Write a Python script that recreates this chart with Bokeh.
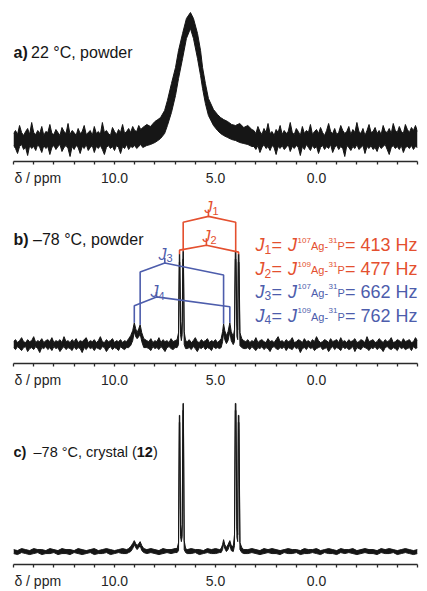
from bokeh.plotting import figure
from bokeh.models import Range1d, FixedTicker, CustomJSTickFormatter, Label
from bokeh.layouts import column
from bokeh.embed import file_html
from bokeh.resources import INLINE

# ---------------- data (ppm positions and intensities) -------------
a_ppm = [15.0, 14.9, 14.8, 14.7, 14.6, 14.5, 14.4, 14.3, 14.2, 14.1,
         14.0, 13.9, 13.8, 13.7, 13.6, 13.5, 13.4, 13.3, 13.2, 13.1,
         13.0, 12.9, 12.8, 12.7, 12.6, 12.5, 12.4, 12.3, 12.2, 12.1,
         12.0, 11.9, 11.8, 11.7, 11.6, 11.5, 11.4, 11.3, 11.2, 11.1,
         11.0, 10.9, 10.8, 10.7, 10.6, 10.5, 10.4, 10.3, 10.2, 10.1,
         10.0, 9.9, 9.8, 9.7, 9.6, 9.5, 9.4, 9.3, 9.2, 9.1, 9.0, 8.9, 8.8, 8.7,
         8.6, 8.4, 8.22, 8.0, 7.85, 7.72, 7.52, 7.38, 7.18, 6.98, 6.83, 6.63, 6.44, 6.24, 6.09, 5.89,
         5.74, 5.64, 5.50, 5.35, 5.10, 4.90, 4.75, 4.60, 4.40, 4.20, 4.01, 3.80, 3.60, 3.40, 3.20,
         3.1, 3.0, 2.9, 2.8, 2.7, 2.6, 2.5, 2.4, 2.3, 2.2,
         2.1, 2.0, 1.9, 1.8, 1.7, 1.6, 1.5, 1.4, 1.3, 1.2,
         1.1, 1.0, 0.9, 0.8, 0.7, 0.6, 0.5, 0.4, 0.3, 0.2,
         0.1, 0.0, -0.1, -0.2, -0.3, -0.4, -0.5, -0.6, -0.7, -0.8,
         -0.9, -1.0, -1.1, -1.2, -1.3, -1.4, -1.5, -1.6, -1.7, -1.8,
         -1.9, -2.0, -2.1, -2.2, -2.3, -2.4, -2.5, -2.6, -2.7, -2.8,
         -2.9, -3.0, -3.1, -3.2, -3.3, -3.4, -3.5, -3.6, -3.7, -3.8,
         -3.9, -4.0, -4.1, -4.2, -4.3, -4.4, -4.5, -4.6, -4.7, -4.8,
         -4.9, -5.0]
a_upper = [28, 31, 27, 36, 29, 26, 30, 33, 27, 39,
           29, 27, 31, 28, 35, 26, 30, 29, 37, 28,
           27, 32, 29, 26, 34, 30, 28, 38, 27, 31,
           29, 26, 33, 28, 30, 36, 27, 29, 31, 26,
           35, 28, 30, 27, 39, 29, 31, 28, 26, 34,
           30, 27, 32, 29, 37, 28, 30, 33, 29, 35,
           31, 30, 36, 32,
           34, 37, 35, 40, 42, 44, 51, 61, 78, 94, 111, 128, 143, 149, 143, 128, 111, 94, 78, 63,
           52, 47, 44, 42, 40, 37, 36, 38, 34, 36, 32,
           31, 28, 35, 30, 27, 33, 29, 38, 28, 30,
           26, 32, 29, 36, 27, 31, 28, 30, 39, 29,
           27, 33, 30, 26, 35, 28, 31, 29, 37, 27,
           30, 32, 28, 34, 29, 26, 31, 38, 30, 28,
           33, 27, 29, 36, 31, 28, 30, 35, 27, 32,
           29, 39, 30, 28, 33, 26, 31, 37, 29, 30,
           34, 28, 31, 27, 36, 30, 29, 33, 28, 38,
           31, 29, 35, 30, 28, 37, 32, 29, 34, 31,
           36, 30]
a_lower = [16, 13, 8, 15, 17, 12, 14, 6, 16, 13,
           15, 11, 17, 14, 9, 16, 13, 15, 7, 14,
           16, 12, 15, 17, 10, 14, 16, 13, 5, 15,
           12, 16, 14, 8, 15, 13, 17, 11, 14, 16,
           9, 15, 13, 16, 12, 7, 14, 16, 13, 15,
           11, 16, 14, 8, 15, 13, 17, 12, 15, 14,
           16, 13, 15, 17,
           14, 16, 17, 19, 21, 23, 28, 36, 49, 66, 83, 103, 123, 133, 123, 103, 86, 73, 58, 46,
           36, 31, 28, 26, 24, 22, 21, 19, 18, 17, 15,
           15, 12, 16, 9, 14, 17, 13, 15, 11, 16,
           14, 7, 15, 13, 16, 12, 14, 17, 10, 15,
           13, 16, 14, 6, 15, 12, 17, 14, 11, 16,
           13, 15, 8, 14, 16, 12, 15, 13, 17, 9,
           14, 16, 12, 15, 13, 5, 16, 14, 11, 15,
           13, 17, 12, 14, 16, 8, 15, 13, 16, 12,
           14, 10, 16, 13, 15, 17, 12, 7, 14, 16,
           13, 15, 12, 16, 9, 14, 15, 13, 16, 12,
           15, 14]

b_ppm = [15.0, 14.9, 14.8, 14.7, 14.6, 14.5, 14.4, 14.3, 14.2, 14.1,
         14.0, 13.9, 13.8, 13.7, 13.6, 13.5, 13.4, 13.3, 13.2, 13.1,
         13.0, 12.9, 12.8, 12.7, 12.6, 12.5, 12.4, 12.3, 12.2, 12.1,
         12.0, 11.9, 11.8, 11.7, 11.6, 11.5, 11.4, 11.3, 11.2, 11.1,
         11.0, 10.9, 10.8, 10.7, 10.6, 10.5, 10.4, 10.3, 10.2, 10.1,
         10.0, 9.9, 9.8, 9.7, 9.6, 9.5, 9.4,
         9.3, 9.2, 9.1, 9.02, 8.95, 8.88, 8.80, 8.73, 8.65, 8.55,
         8.4, 8.3, 8.2, 8.1, 8.0, 7.9, 7.8, 7.7, 7.6, 7.5, 7.4, 7.3, 7.2, 7.1, 7.0,
         6.90, 6.83, 6.79, 6.77, 6.73, 6.69, 6.65, 6.61, 6.59, 6.55, 6.48,
         6.4, 6.3, 6.2, 6.1, 6.0, 5.9, 5.8, 5.7, 5.6, 5.5, 5.4, 5.3, 5.2, 5.1, 5.0, 4.9, 4.8,
         4.72, 4.65, 4.60, 4.54, 4.46, 4.38, 4.29, 4.22, 4.12, 4.06, 4.02, 3.99, 3.94, 3.90,
         3.87, 3.84, 3.79, 3.70, 3.60,
         3.5, 3.4, 3.3, 3.2, 3.1, 3.0, 2.9, 2.8, 2.7, 2.6,
         2.5, 2.4, 2.3, 2.2, 2.1, 2.0, 1.9, 1.8, 1.7, 1.6,
         1.5, 1.4, 1.3, 1.2, 1.1, 1.0, 0.9, 0.8, 0.7, 0.6,
         0.5, 0.4, 0.3, 0.2, 0.1, 0.0, -0.1, -0.2, -0.3, -0.4,
         -0.5, -0.6, -0.7, -0.8, -0.9, -1.0, -1.1, -1.2, -1.3, -1.4,
         -1.5, -1.6, -1.7, -1.8, -1.9, -2.0, -2.1, -2.2, -2.3, -2.4,
         -2.5, -2.6, -2.7, -2.8, -2.9, -3.0, -3.1, -3.2, -3.3, -3.4,
         -3.5, -3.6, -3.7, -3.8, -3.9, -4.0, -4.1, -4.2, -4.3, -4.4,
         -4.5, -4.6, -4.7, -4.8, -4.9, -5.0]
b_upper = [22, 24, 21, 23, 26, 22, 21, 24, 22, 23,
           27, 21, 23, 22, 25, 21, 23, 24, 22, 26,
           21, 23, 22, 24, 21, 27, 22, 23, 21, 24,
           22, 25, 21, 23, 22, 24, 26, 21, 23, 22,
           24, 21, 23, 27, 22, 21, 24, 22, 23, 25,
           21, 23, 22, 24, 21, 23, 22,
           25, 28, 33, 41, 35, 31, 35, 39, 31, 25,
           23, 22, 25, 21, 23, 22, 26, 21, 24, 22, 23, 21, 25, 22, 23,
           24, 31, 110, 110, 42, 31, 42, 113, 113, 32, 23,
           22, 24, 21, 23, 26, 22, 21, 24, 22, 23, 25, 21, 23, 22, 24, 21, 23,
           25, 32, 40, 33, 28, 32, 41, 32, 27, 34, 113, 113, 40, 34, 110, 110, 31, 25, 23,
           22, 24, 21, 23, 22, 26, 21, 23, 24, 22,
           21, 25, 22, 23, 21, 24, 27, 22, 23, 21,
           24, 22, 23, 26, 21, 22, 24, 23, 21, 25,
           22, 23, 21, 24, 22, 27, 23, 21, 22, 24,
           23, 21, 25, 22, 23, 24, 21, 26, 22, 23,
           21, 24, 22, 23, 25, 21, 22, 24, 23, 21,
           27, 22, 23, 24, 21, 22, 25, 23, 21, 24,
           22, 23, 26, 21, 22, 24, 23, 21, 25, 22,
           23, 24, 21, 22, 26, 23]
b_lower = [16, 14, 17, 15, 13, 16, 17, 12, 15, 16,
           14, 17, 15, 11, 16, 15, 17, 14, 16, 13,
           17, 15, 16, 12, 15, 17, 14, 16, 15, 13,
           17, 14, 16, 15, 11, 16, 14, 17, 15, 16,
           13, 16, 15, 14, 17, 16, 12, 15, 17, 14,
           16, 15, 13, 17, 15, 14, 16,
           16, 18, 23, 32, 27, 25, 27, 30, 22, 16,
           16, 15, 13, 17, 15, 16, 14, 17, 15, 12, 16, 17, 15, 14, 16,
           16, 19, 102, 102, 29, 23, 29, 105, 105, 19, 15,
           15, 16, 14, 17, 15, 12, 16, 15, 17, 14, 16, 15, 13, 17, 15, 16, 15,
           16, 22, 31, 24, 20, 23, 32, 23, 19, 22, 105, 105, 27, 24, 102, 102, 18, 16, 15,
           15, 16, 14, 17, 15, 13, 16, 15, 17, 14,
           16, 15, 12, 16, 17, 15, 14, 16, 15, 17,
           13, 16, 15, 14, 17, 15, 16, 11, 15, 16,
           14, 17, 15, 16, 13, 15, 16, 17, 14, 15,
           16, 12, 15, 17, 14, 16, 15, 13, 17, 15,
           16, 14, 15, 17, 12, 16, 15, 14, 17, 16,
           15, 13, 16, 15, 17, 14, 16, 15, 12, 16,
           17, 15, 14, 16, 15, 13, 17, 15, 16, 14,
           15, 16, 13, 17, 15, 16]

c_ppm = [15.0, 14.8, 14.6, 14.4, 14.2, 14.0, 13.8, 13.6, 13.4, 13.2, 13.0, 12.8, 12.6, 12.4, 12.2,
         12.0, 11.8, 11.6, 11.4, 11.2, 11.0, 10.8, 10.6, 10.4, 10.2, 10.0, 9.8, 9.6, 9.4,
         9.3, 9.2, 9.1, 9.02, 8.95, 8.88, 8.80, 8.73, 8.65, 8.55,
         8.4, 8.2, 8.0, 7.8, 7.6, 7.4, 7.2, 7.0,
         6.90, 6.83, 6.79, 6.77, 6.73, 6.69, 6.65, 6.61, 6.59, 6.55, 6.48,
         6.4, 6.2, 6.0, 5.8, 5.6, 5.4, 5.2, 5.0, 4.8,
         4.72, 4.65, 4.60, 4.54, 4.46, 4.38, 4.29, 4.22, 4.12, 4.06, 4.02, 3.99, 3.94, 3.90,
         3.87, 3.84, 3.79, 3.70, 3.60,
         3.4, 3.2, 3.0, 2.8, 2.6, 2.4, 2.2, 2.0, 1.8, 1.6, 1.4, 1.2, 1.0, 0.8, 0.6, 0.4, 0.2,
         0.0, -0.2, -0.4, -0.6, -0.8, -1.0, -1.2, -1.4, -1.6, -1.8, -2.0, -2.2, -2.4, -2.6,
         -2.8, -3.0, -3.2, -3.4, -3.6, -3.8, -4.0, -4.2, -4.4, -4.6, -4.8, -5.0]
c_upper = [15, 14, 16, 15, 14, 16, 15, 15, 14, 16, 15, 14, 16, 15, 15, 14, 16, 15, 14, 15, 16, 14,
           15, 16, 15, 14, 15, 16, 15,
           16, 18, 21, 24, 21, 19, 21, 23, 19, 16,
           15, 16, 15, 14, 16, 15, 15, 16,
           16, 22, 150, 150, 40, 30, 40, 162, 162, 24, 16,
           15, 16, 15, 15, 14, 16, 15, 16, 15,
           16, 20, 25, 20, 17, 20, 24, 19, 18, 30, 162, 162, 38, 30, 150, 150, 22, 17, 15,
           15, 16, 15, 14, 16, 15, 16, 15, 14, 15, 16, 15, 15, 14, 16, 15, 15, 16, 14, 15, 16,
           15, 14, 16, 15, 15, 16, 14, 15, 16, 15, 15, 14, 16, 15, 16, 15, 14, 15, 16, 15, 14, 15]
c_lower = [11, 10, 12, 11, 10, 11, 12, 10, 11, 11, 12, 10, 11, 11, 10, 12, 11, 10, 11, 12, 10, 11,
           11, 12, 10, 11, 12, 11, 11,
           12, 13, 16, 20, 17, 15, 17, 19, 14, 12,
           11, 12, 11, 10, 11, 12, 11, 12,
           12, 14, 143, 143, 28, 23, 28, 155, 155, 15, 12,
           11, 11, 12, 10, 11, 12, 11, 11, 12,
           12, 15, 21, 16, 13, 15, 20, 14, 13, 19, 155, 155, 27, 23, 143, 143, 15, 12, 11,
           11, 12, 11, 10, 11, 12, 11, 11, 10, 12, 11, 11, 12, 10, 11, 11, 12, 11, 10, 12, 11,
           11, 10, 12, 11, 12, 11, 10, 11, 12, 11, 11, 10, 12, 11, 11, 12, 10, 11, 12, 11, 10, 11]

# coupling trees of panel b: leg ppm / heights, and stems
j1_xs = [6.60, 6.60, 5.35, 4.00, 4.00]
j1_ys = [113, 142, 148, 142, 113]
j1_stem = ([5.35, 5.35], [148, 155])
j2_xs = [6.78, 6.78, 5.45, 3.855, 3.855]
j2_ys = [110, 114, 119, 112, 110]
j2_stem = ([5.45, 5.45], [119, 126])
j3_xs = [8.73, 8.73, 7.51, 4.60, 4.60]
j3_ys = [39, 92, 101, 89, 40]
j3_stem = ([7.51, 7.51], [101, 106])
j4_xs = [9.02, 9.02, 7.92, 4.29, 4.29]
j4_ys = [41, 58, 67, 57, 41]
j4_stem = ([7.92, 7.92], [67, 72])

j_iso = ["107", "109", "107", "109"]
j_vals = ["413", "477", "662", "762"]

tick_major = [13.8, 10, 5, 0]          # 13.8 carries the axis title "δ / ppm"
tick_minor = list(range(-5, 16))

# ---------------- styling -------------
FONT = "Liberation Sans"
INK = "#161616"
RED = "#e4502f"
BLUE = "#4d5dac"

x_range = Range1d(15.0, -5.0)

fmt = CustomJSTickFormatter(code="return tick > 12 ? '\u03b4 / ppm' : tick.toFixed(1);")


def make_fig(h, frame_h):
    p = figure(width=427, height=h, x_range=x_range, y_range=Range1d(0, frame_h),
               output_backend="svg", toolbar_location=None, y_axis_location=None,
               min_border_left=13, min_border_right=10, min_border_top=0,
               min_border_bottom=h - frame_h)
    p.grid.visible = False
    p.outline_line_color = None
    p.background_fill_color = "white"
    p.border_fill_color = "white"
    ax = p.xaxis[0]
    ax.ticker = FixedTicker(ticks=tick_major, minor_ticks=tick_minor)
    ax.formatter = fmt
    ax.axis_line_width = 1.5
    ax.axis_line_color = "#2a2a2a"
    ax.minor_tick_line_color = "#2a2a2a"
    ax.minor_tick_line_width = 1.3
    ax.major_tick_in = 0
    ax.major_tick_out = 0
    ax.major_tick_line_color = None
    ax.minor_tick_in = 0
    ax.minor_tick_out = 3
    ax.major_label_standoff = 5
    ax.major_label_text_font = FONT
    ax.major_label_text_font_size = "14px"
    ax.major_label_text_color = "#262626"
    return p


def lab(p, x, y, text, size, color=INK, style="normal"):
    p.add_layout(Label(x=x, y=y, x_units="screen", y_units="data", text=text,
                       text_font=FONT, text_font_size=f"{size}px", text_color=color,
                       text_font_style=style, text_baseline="alphabetic", text_align="left"))


def spectrum(p, xs, up, lo):
    n = min(len(xs), len(up), len(lo))
    xs, up, lo = xs[:n], up[:n], lo[:n]
    p.varea(x=xs, y1=lo, y2=up, fill_color=INK)
    p.line(xs, up, line_color=INK, line_width=1.0)
    p.line(xs, lo, line_color=INK, line_width=1.0)


# panel a
pa = make_fig(190, 161)
spectrum(pa, a_ppm, a_upper, a_lower)
lab(pa, 0, 109, "a)", 16, style="bold")
lab(pa, 17.5, 109, "22 °C, powder", 16)

# panel b
pb = make_fig(200, 174)
spectrum(pb, b_ppm, b_upper, b_lower)
lab(pb, 0, 125, "b)", 16, style="bold")
lab(pb, 19.5, 125, "–78 °C, powder", 16)
for xs, ys, stem, col in [(j1_xs, j1_ys, j1_stem, RED), (j2_xs, j2_ys, j2_stem, RED),
                          (j3_xs, j3_ys, j3_stem, BLUE), (j4_xs, j4_ys, j4_stem, BLUE)]:
    pb.multi_line(xs=[xs, stem[0]], ys=[ys, stem[1]], line_color=col, line_width=1.6)
# tree labels
for n, (sx, sy, col) in enumerate([(191, 157, RED), (189, 128, RED), (145, 110, BLUE), (137, 72, BLUE)], 1):
    lab(pb, sx, sy, "J", 16, col, "italic")
    lab(pb, sx + 8, sy - 4, str(n), 11, col)
# coupling constants
x0 = 242
for i, (y, col) in enumerate([(119, RED), (95, RED), (72, BLUE), (48, BLUE)]):
    lab(pb, x0, y, "J", 18, col, "italic")
    lab(pb, x0 + 9, y - 4, str(i + 1), 12, col)
    lab(pb, x0 + 16, y, "=", 18, col)
    lab(pb, x0 + 32.5, y, "J", 18, col, "italic")
    lab(pb, x0 + 42, y + 5, j_iso[i], 8, col)
    lab(pb, x0 + 55.5, y - 1, "Ag", 11, col)
    lab(pb, x0 + 69, y - 1, "-", 11, col)
    lab(pb, x0 + 73, y + 5, "31", 8, col)
    lab(pb, x0 + 82, y - 1, "P", 11, col)
    lab(pb, x0 + 89.5, y, "= " + j_vals[i] + " Hz", 18, col)

# panel c
pc = make_fig(201, 175)
spectrum(pc, c_ppm, c_upper, c_lower)
lab(pc, 0, 113, "c)", 14.5, style="bold")
lab(pc, 20, 113, "–78 °C, crystal (", 14.5)
lab(pc, 123.3, 113, "12", 14.5, style="bold")
lab(pc, 139.4, 113, ")", 14.5)

layout = column(pa, pb, pc, spacing=0)
open("out.html", "w").write(file_html(layout, INLINE))
